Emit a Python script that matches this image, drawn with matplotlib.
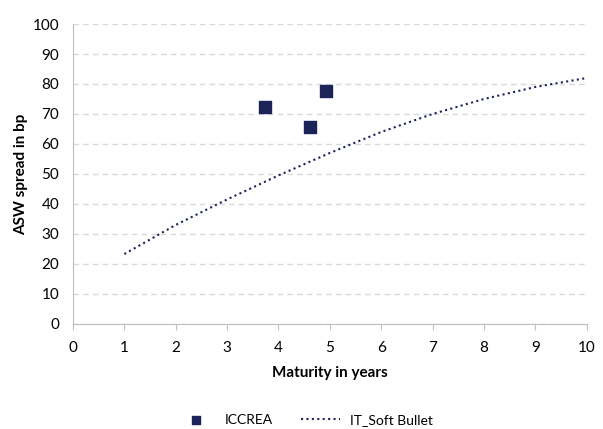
import matplotlib.pyplot as plt

plt.rcParams['font.family'] = ['Lato', 'DejaVu Sans']

# ICCREA bonds
iccrea_maturity = [3.74, 4.61, 4.92]
iccrea_spread = [72.3, 65.7, 77.7]

# IT_Soft Bullet curve
curve_maturity = [1, 2, 3, 4, 5, 6, 7, 8, 9, 10]
curve_spread = [23.3, 33.0, 41.5, 49.5, 57.0, 64.0, 70.0, 75.0, 79.0, 82.0]

navy = "#1b2358"

fig = plt.figure(figsize=(6.03, 4.29), dpi=100)
ax = fig.add_axes([0.121, 0.245, 0.852, 0.699])

ax.plot(curve_maturity, curve_spread, linestyle=(0, (1, 1.6)), color=navy, linewidth=1.5,
        label="IT_Soft Bullet", zorder=2)
ax.scatter(iccrea_maturity, iccrea_spread, marker="s", s=85, color=navy, label="ICCREA", zorder=3)

ax.set_xlim(0, 10)
ax.set_ylim(0, 100)
ax.set_xticks(range(0, 11))
ax.set_yticks(range(0, 101, 10))
ax.grid(axis="y", linestyle=(0, (4, 3)), color="#d9d9d9", linewidth=1)
ax.set_axisbelow(True)

for s in ["top", "right"]:
    ax.spines[s].set_visible(False)
for s in ["left", "bottom"]:
    ax.spines[s].set_color("#bfbfbf")
ax.tick_params(axis="y", length=0, labelsize=11, pad=10)
ax.tick_params(axis="x", length=4, color="#bfbfbf", labelsize=11, pad=8)

ax.set_xlabel("Maturity in years", fontsize=11, fontweight="bold", labelpad=8)
ax.set_ylabel("ASW spread in bp", fontsize=11, fontweight="bold", labelpad=3)

handles, labels = ax.get_legend_handles_labels()
fig.legend(handles[::-1], labels[::-1], loc="center", bbox_to_anchor=(0.505, 0.022), ncol=2,
           frameon=False, fontsize=10, handlelength=2.8, handletextpad=0.7,
           columnspacing=2.0, markerscale=0.7)

fig.savefig("out.png", dpi=100)
